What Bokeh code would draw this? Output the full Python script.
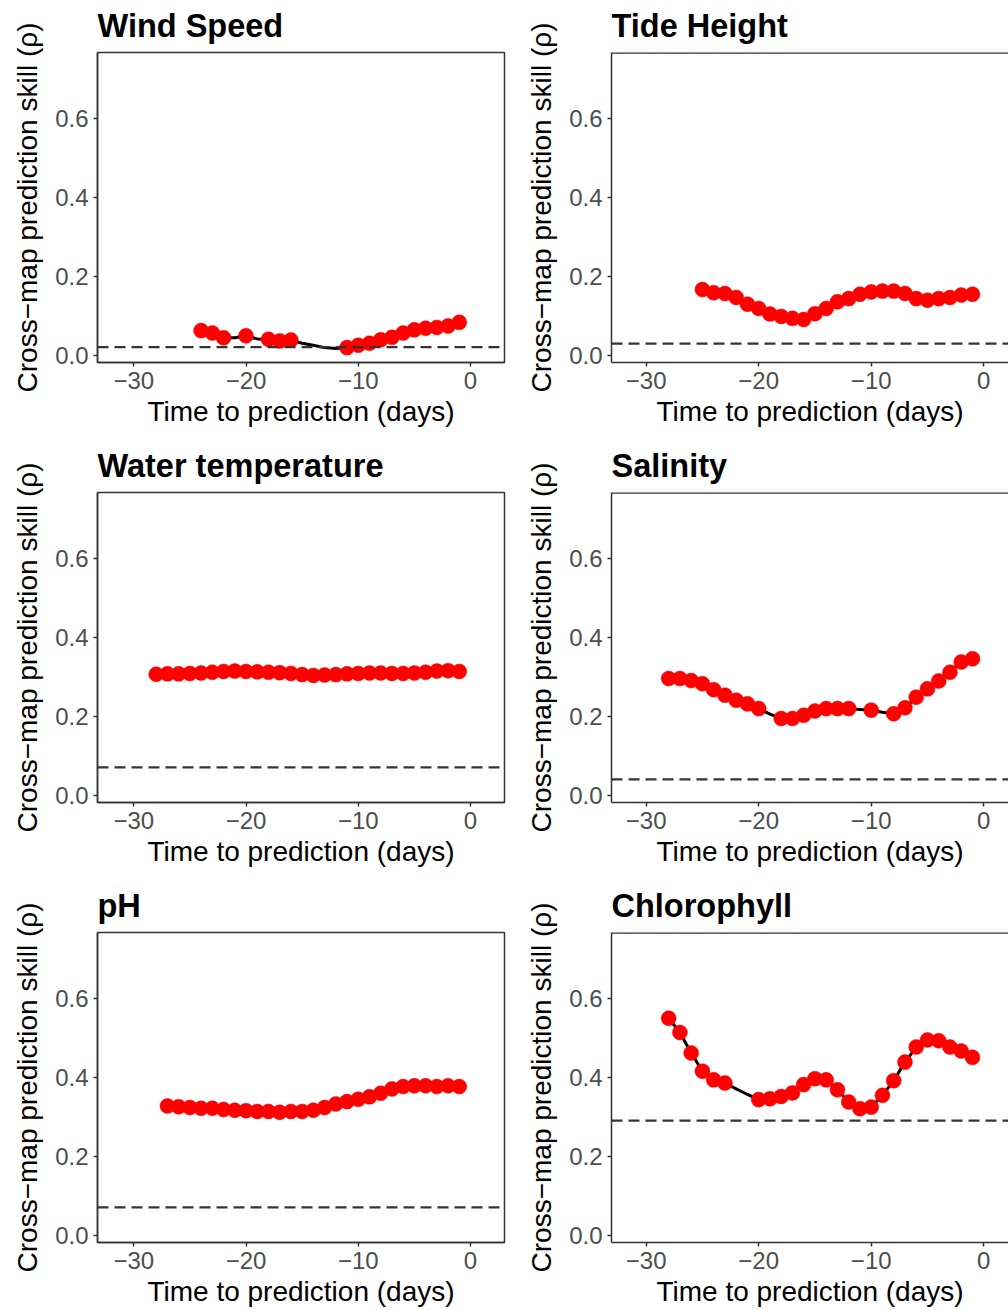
from bokeh.plotting import figure
from bokeh.layouts import column, row
from bokeh.models import Span, FixedTicker
from bokeh.embed import file_html
from bokeh.resources import INLINE

# ---------------- data ----------------
panel_titles = ["Wind Speed", "Tide Height", "Water temperature", "Salinity", "pH", "Chlorophyll"]

wind_days = list(range(-24, 0))
wind_rho = [0.062, 0.056, 0.044, 0.044, 0.049, 0.041, 0.040, 0.036, 0.038, 0.030, 0.025, 0.019,
            0.017, 0.019, 0.025, 0.030, 0.039, 0.045, 0.056, 0.064, 0.068, 0.070, 0.074, 0.083]
wind_no_marker = [-21, -19, -15, -14, -13, -12]
wind_threshold = 0.020

tide_days = list(range(-25, 0))
tide_rho = [0.166, 0.158, 0.156, 0.146, 0.129, 0.118, 0.104, 0.098, 0.093, 0.090, 0.105, 0.118,
            0.135, 0.143, 0.154, 0.160, 0.162, 0.162, 0.156, 0.143, 0.139, 0.143, 0.146, 0.152, 0.154]
tide_no_marker = []
tide_threshold = 0.029

wtemp_days = list(range(-28, 0))
wtemp_rho = [0.306, 0.307, 0.307, 0.308, 0.309, 0.311, 0.313, 0.314, 0.313, 0.312, 0.311, 0.310,
             0.308, 0.305, 0.303, 0.304, 0.305, 0.307, 0.308, 0.309, 0.309, 0.308, 0.308, 0.309,
             0.311, 0.314, 0.315, 0.313]
wtemp_no_marker = []
wtemp_threshold = 0.070

sal_days = list(range(-28, 0))
sal_rho = [0.295, 0.295, 0.290, 0.282, 0.267, 0.253, 0.240, 0.231, 0.219, 0.205, 0.194, 0.194,
           0.202, 0.213, 0.219, 0.219, 0.219, 0.217, 0.215, 0.210, 0.206, 0.221, 0.248, 0.269,
           0.289, 0.311, 0.337, 0.345]
sal_no_marker = [-19, -11, -9]
sal_threshold = 0.040

ph_days = list(range(-27, 0))
ph_rho = [0.327, 0.325, 0.323, 0.321, 0.321, 0.318, 0.316, 0.315, 0.313, 0.313, 0.311, 0.313,
          0.313, 0.316, 0.323, 0.332, 0.338, 0.344, 0.350, 0.359, 0.370, 0.376, 0.378, 0.378,
          0.376, 0.378, 0.376]
ph_no_marker = []
ph_threshold = 0.070

chl_days = list(range(-28, 0))
chl_rho = [0.549, 0.513, 0.461, 0.415, 0.393, 0.385, 0.370, 0.356, 0.343, 0.345, 0.351, 0.360,
           0.381, 0.396, 0.393, 0.368, 0.337, 0.320, 0.324, 0.354, 0.391, 0.438, 0.476, 0.494,
           0.492, 0.476, 0.466, 0.450]
chl_no_marker = [-22, -21]
chl_threshold = 0.290

x_ticks = [-30, -20, -10, 0]
x_tick_labels = ["\u221230", "\u221220", "\u221210", "0"]
y_ticks = [0.0, 0.2, 0.4, 0.6]
y_tick_labels = ["0.0", "0.2", "0.4", "0.6"]

x_label = "Time to prediction (days)"
y_label = "Cross\u2212map prediction skill (\u03c1)"

# ---------------- styling ----------------
FONT = "Liberation Sans"
FRAME_COL = "#333333"
Y_RANGE = (-0.0187, 0.766)


def make_panel(name, days, rho, no_marker, thr, is_left, is_last):
    if is_left:
        x_rng = (-33.23, 3.03)
        ml, fw, mr = 97, 407, 2
    else:
        x_rng = (-33.08, 2.2)
        ml, fw, mr = 105, 397, 0
    h = 430 if is_last else 440
    p = figure(width=ml + fw + mr, height=h, x_range=x_rng, y_range=Y_RANGE,
               output_backend="svg", toolbar_location=None,
               min_border_left=ml, min_border_right=mr,
               min_border_top=52, min_border_bottom=h - 362,
               background_fill_color="white", border_fill_color="white")
    p.xgrid.grid_line_color = None
    p.ygrid.grid_line_color = None
    if is_left:
        p.outline_line_color = FRAME_COL
        p.outline_line_width = 1.5
        p.outline_line_alpha = 1.0
    else:
        # right-hand panels are cut off by the page edge: draw only the top border
        p.outline_line_color = None
        p.add_layout(Span(location=Y_RANGE[1], dimension="width", line_color=FRAME_COL,
                          line_width=2.5))

    # title
    p.title.text = name
    p.title.text_font = FONT
    p.title.text_font_size = "32.5px"
    p.title.text_font_style = "bold"
    p.title.text_color = "black"
    p.title.align = "left"
    p.title.vertical_align = "top"
    p.title.offset = 0
    p.title.standoff = 13

    for ax in (p.xaxis[0], p.yaxis[0]):
        ax.axis_line_color = FRAME_COL
        ax.axis_line_width = 1.5
        ax.major_tick_line_color = FRAME_COL
        ax.major_tick_line_width = 1.5
        ax.major_tick_out = 4
        ax.major_tick_in = 0
        ax.minor_tick_line_color = None
        ax.major_label_text_font = FONT
        ax.major_label_text_font_size = "24px"
        ax.major_label_text_color = "#4D4D4D"
        ax.axis_label_text_font = FONT
        ax.axis_label_text_font_size = "28px"
        ax.axis_label_text_font_style = "normal"
        ax.axis_label_text_color = "black"

    p.xaxis.ticker = FixedTicker(ticks=x_ticks)
    p.xaxis.major_label_overrides = dict(zip(x_ticks, x_tick_labels))
    p.xaxis.axis_label = x_label
    p.xaxis.major_label_standoff = 5
    p.xaxis.axis_label_standoff = 4

    p.yaxis.ticker = FixedTicker(ticks=y_ticks)
    p.yaxis.major_label_overrides = dict(zip(y_ticks, y_tick_labels))
    p.yaxis.axis_label = y_label
    p.yaxis.major_label_standoff = 5
    p.yaxis.axis_label_standoff = 9

    # threshold
    p.add_layout(Span(location=thr, dimension="width", line_color=FRAME_COL,
                      line_width=2.2, line_dash="11 6"))

    # line + markers
    p.line(days, rho, line_color="black", line_width=3)
    mx = [d for d, r in zip(days, rho) if d not in no_marker]
    my = [r for d, r in zip(days, rho) if d not in no_marker]
    p.scatter(mx, my, size=15, fill_color="#FF0000", line_color="#FF0000", line_width=0.5)
    return p


panels_data = [
    (wind_days, wind_rho, wind_no_marker, wind_threshold),
    (tide_days, tide_rho, tide_no_marker, tide_threshold),
    (wtemp_days, wtemp_rho, wtemp_no_marker, wtemp_threshold),
    (sal_days, sal_rho, sal_no_marker, sal_threshold),
    (ph_days, ph_rho, ph_no_marker, ph_threshold),
    (chl_days, chl_rho, chl_no_marker, chl_threshold),
]

figs = []
for i, (name, (d, r, nm, t)) in enumerate(zip(panel_titles, panels_data)):
    figs.append(make_panel(name, d, r, nm, t, is_left=(i % 2 == 0), is_last=(i >= 4)))

layout = column(row(figs[0], figs[1]), row(figs[2], figs[3]), row(figs[4], figs[5]))

open("out.html", "w").write(file_html(layout, INLINE))
